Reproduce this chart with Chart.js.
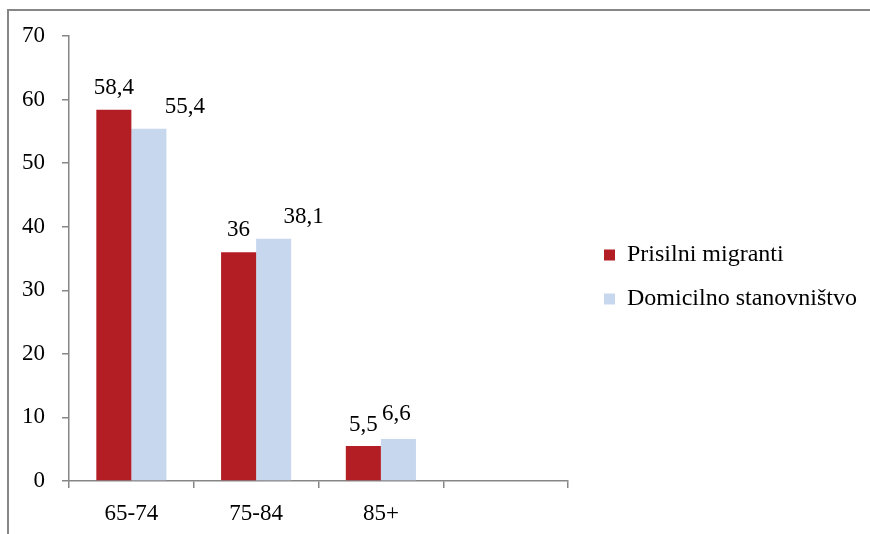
<!DOCTYPE html>
<html>
<head>
<meta charset="utf-8">
<script src="https://cdn.jsdelivr.net/npm/chart.js@4.4.1/dist/chart.umd.min.js"></script>
<style>
    html, body { margin: 0; padding: 0; background: #fff; overflow: hidden; }
    #wrap { position: relative; width: 870px; height: 534px; }
    #frame {
        position: absolute; left: 7px; top: 9px; width: 900px; height: 600px;
        border-left: 2px solid #868686; border-top: 2px solid #868686;
    }
    canvas { position: absolute; left: 0; top: 0; }
</style>
</head>
<body>
<div id="wrap">
    <div id="frame"></div>
    <canvas id="chart" width="870" height="534"></canvas>
</div>
<script>
// age groups (the last slot is empty in the source chart)
const categories = ['65-74', '75-84', '85+', ''];
const migranti = [58.4, 36, 5.5, null];
const domicilno = [55.4, 38.1, 6.6, null];
const seriesNames = ['Prisilni migranti', 'Domicilno stanovništvo'];
const yTicks = [0, 10, 20, 30, 40, 50, 60, 70];

const AXIS = '#868686';
const FONT = 'Liberation Serif, "Times New Roman", serif';

// value labels above bars, decimal comma
const valueLabels = {
    id: 'valueLabels',
    afterDatasetsDraw(chart, args, opts) {
        const ctx = chart.ctx;
        ctx.save();
        ctx.font = `23px ${FONT}`;
        ctx.fillStyle = '#000';
        ctx.textAlign = 'center';
        ctx.textBaseline = 'alphabetic';
        chart.data.datasets.forEach((ds, di) => {
            const meta = chart.getDatasetMeta(di);
            meta.data.forEach((bar, i) => {
                const v = ds.data[i];
                if (v === null || v === undefined) return;
                const off = (opts.offsets[di] || [])[i] || [0, 0];
                const txt = String(v).replace('.', ',');
                ctx.fillText(txt, bar.x + off[0], bar.y - 16 + off[1]);
            });
        });
        ctx.restore();
    }
};

// nudge the legend away from the plot area
const legendShift = {
    id: 'legendShift',
    afterLayout(chart, args, opts) {
        const lg = chart.legend;
        if (!lg) return;
        lg.left += opts.dx; lg.right += opts.dx;
        lg.top += opts.dy; lg.bottom += opts.dy;
    }
};

const ctx = document.getElementById('chart').getContext('2d');
const chart = new Chart(ctx, {
    type: 'bar',
    data: {
        labels: categories,
        datasets: [
            {
                label: seriesNames[0],
                data: migranti,
                backgroundColor: '#B31E25',
                borderWidth: 0
            },
            {
                label: seriesNames[1],
                data: domicilno,
                backgroundColor: '#C6D7EE',
                borderWidth: 0
            }
        ]
    },
    plugins: [valueLabels, legendShift],
    options: {
        responsive: false,
        animation: false,
        devicePixelRatio: 1,
        layout: {
            padding: { left: 22, top: 36, right: 19, bottom: 8 }
        },
        datasets: {
            bar: { categoryPercentage: 0.562, barPercentage: 1.0 }
        },
        plugins: {
            tooltip: { enabled: false },
            title: { display: false },
            legend: {
                position: 'right',
                maxWidth: 400,
                labels: {
                    boxWidth: 11,
                    boxHeight: 11,
                    padding: 20,
                    color: '#000',
                    font: { family: FONT, size: 24 }
                }
            },
            legendShift: { dx: 16, dy: -4 },
            valueLabels: {
                offsets: [
                    [[0, 0], [0, 0], [0, 1], [0, 0]],
                    [[36, 0], [30, 0], [-2, -3], [0, 0]]
                ]
            }
        },
        scales: {
            x: {
                afterFit(scale) { scale.height = 45; },
                grid: {
                    offset: true,
                    drawOnChartArea: false,
                    drawTicks: true,
                    tickLength: 7,
                    color: AXIS,
                    lineWidth: 1.5
                },
                border: { display: true, color: AXIS, width: 1.5 },
                ticks: {
                    color: '#000',
                    padding: 12,
                    font: { family: FONT, size: 23 }
                }
            },
            y: {
                min: 0,
                max: 70,
                afterBuildTicks(scale) {
                    scale.ticks = yTicks.map(v => ({ value: v }));
                },
                afterFit(scale) { scale.width = 47; },
                grid: {
                    drawOnChartArea: false,
                    drawTicks: true,
                    tickLength: 7,
                    color: AXIS,
                    lineWidth: 1.5
                },
                border: { display: true, color: AXIS, width: 1.5 },
                ticks: {
                    color: '#000',
                    padding: 17,
                    font: { family: FONT, size: 23 }
                }
            }
        }
    }
});
</script>
</body>
</html>
